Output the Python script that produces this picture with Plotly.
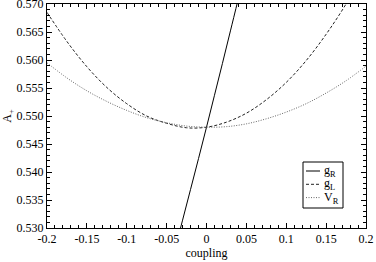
import plotly.graph_objects as go

# ---- data ----
coupling_R = [-0.04, -0.03, -0.02, -0.01, 0.0, 0.01, 0.02, 0.03, 0.04]
A_gR = [0.5259, 0.5314, 0.5369, 0.5424, 0.5480, 0.5537, 0.5594, 0.5652, 0.5710]

coupling = [-0.2, -0.175, -0.15, -0.125, -0.1, -0.075, -0.05, -0.025, 0.0,
            0.025, 0.05, 0.075, 0.1, 0.125, 0.15, 0.175, 0.2]
A_gL = [0.5685, 0.5633, 0.5588, 0.5551, 0.5522, 0.5500, 0.5487, 0.5479, 0.5480,
        0.5489, 0.5505, 0.5529, 0.5560, 0.5599, 0.5646, 0.5700, 0.5762]
A_VR = [0.5595, 0.5568, 0.5545, 0.5526, 0.5510, 0.5497, 0.5488, 0.5482, 0.5480,
        0.5481, 0.5486, 0.5495, 0.5507, 0.5522, 0.5541, 0.5563, 0.5589]

series_names = ["g<sub>R</sub>", "g<sub>L</sub>", "V<sub>R</sub>"]
x_tickvals = [-0.2, -0.15, -0.1, -0.05, 0, 0.05, 0.1, 0.15, 0.2]
x_ticktext = ["-0.2", "-0.15", "-0.1", "-0.05", "0", "0.05", "0.1", "0.15", "0.2"]

styles = [dict(color="black", dash="solid", width=1),
          dict(color="#222222", dash="3px,2px", width=1),
          dict(color="#666666", dash="1px,1.5px", width=1)]

FONT = "Liberation Serif"

fig = go.Figure()
fig.add_trace(go.Scatter(x=coupling_R, y=A_gR, mode="lines", line=styles[0],
                         name=series_names[0], line_shape="spline"))
fig.add_trace(go.Scatter(x=coupling, y=A_gL, mode="lines", line=styles[1],
                         name=series_names[1], line_shape="spline"))
fig.add_trace(go.Scatter(x=coupling, y=A_VR, mode="lines", line=styles[2],
                         name=series_names[2], line_shape="spline"))

axis_common = dict(showgrid=False, zeroline=False, showline=True, linecolor="black",
                   linewidth=1, mirror="ticks", ticks="inside", ticklen=5,
                   tickcolor="black", tickwidth=1, automargin=False,
                   ticklabeloverflow="allow",
                   tickfont=dict(family=FONT, size=12, color="black"))

fig.update_xaxes(range=[-0.2, 0.2], tickvals=x_tickvals, ticktext=x_ticktext,
                 minor=dict(ticks="inside", dtick=0.01, ticklen=3, tickcolor="black"),
                 title=dict(text="coupling", font=dict(family=FONT, size=12, color="black"),
                            standoff=2),
                 **axis_common)
fig.update_yaxes(range=[0.530, 0.570], dtick=0.005, tick0=0.530, tickformat=".3f",
                 minor=dict(ticks="inside", dtick=0.001, ticklen=3, tickcolor="black"),
                 title=dict(text="A<sub>+</sub>", font=dict(family=FONT, size=12, color="black"),
                            standoff=2),
                 **axis_common)

# compact legend (box + line samples + labels), placed in paper coordinates
W, H = 376, 262
ml, mr, mt, mb = 47, 10, 4, 34
pw, ph = W - ml - mr, H - mt - mb
def px(x): return (x - ml) / pw
def py(y): return 1 - (y - mt) / ph
fig.add_shape(type="rect", xref="paper", yref="paper",
              x0=px(303), x1=px(343), y0=py(208), y1=py(162),
              line=dict(color="black", width=1), fillcolor="white", layer="above")
for i, (nm, st) in enumerate(zip(series_names, styles)):
    yc = 171 + i * 13.3
    fig.add_shape(type="line", xref="paper", yref="paper",
                  x0=px(306), x1=px(320), y0=py(yc), y1=py(yc),
                  line=st, layer="above")
    fig.add_annotation(xref="paper", yref="paper", x=px(322), y=py(yc),
                       text=nm, showarrow=False, xanchor="left", yanchor="middle",
                       font=dict(family=FONT, size=12, color="black"))

fig.update_layout(width=W, height=H, margin=dict(l=ml, r=mr, t=mt, b=mb),
                  plot_bgcolor="white", paper_bgcolor="white", showlegend=False,
                  font=dict(family=FONT, size=12, color="black"))

fig.write_html("out.html", config={"displayModeBar": False},
               post_script="document.body.style.margin='0';")
